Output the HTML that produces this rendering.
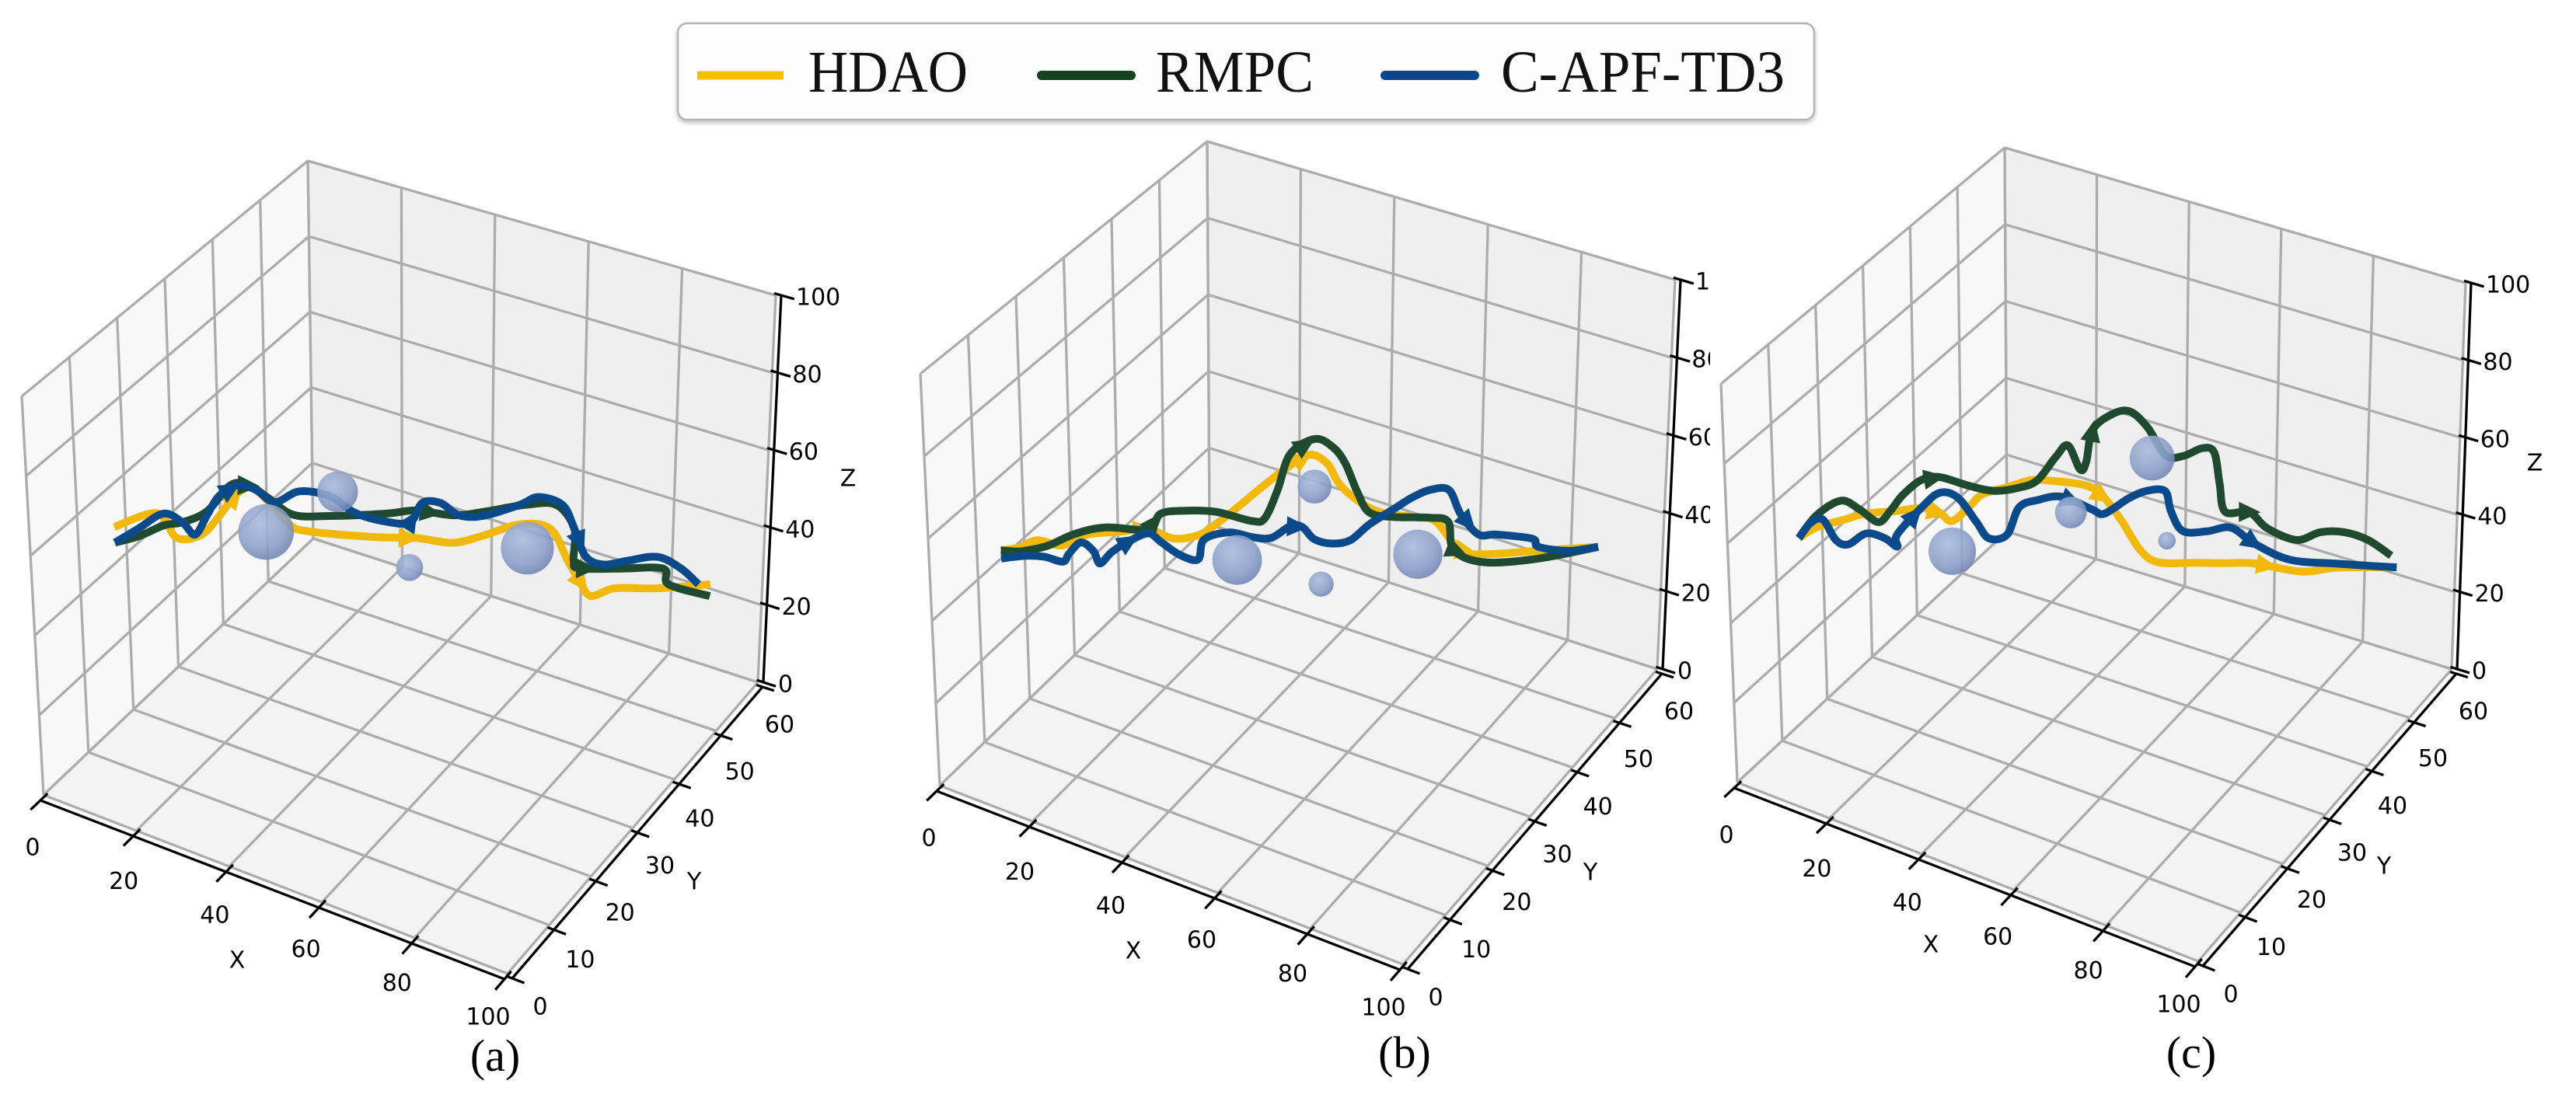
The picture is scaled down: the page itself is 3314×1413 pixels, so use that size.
<!DOCTYPE html>
<html><head><meta charset="utf-8"><style>
html,body{margin:0;padding:0;background:#fff;}
svg{display:block;}
text{font-family:"DejaVu Sans","Liberation Sans",sans-serif;}
</style></head><body>
<svg id="fig" width="3314" height="1413" viewBox="0 0 3314 1413" xmlns="http://www.w3.org/2000/svg">
<defs>
<radialGradient id="sph" cx="40%" cy="35%" r="65%">
<stop offset="0" stop-color="#a9bbdc"/><stop offset="0.7" stop-color="#8a9ec8"/><stop offset="1" stop-color="#7486b3"/>
</radialGradient>
<clipPath id="clipB"><rect x="1100" y="0" width="1100" height="1413"/></clipPath>
<filter id="shadow" x="-5%" y="-20%" width="110%" height="150%"><feDropShadow dx="0" dy="3" stdDeviation="3" flood-color="#000" flood-opacity="0.25"/></filter>
</defs>
<g id="legend">
<rect x="872" y="30" width="1462" height="124" rx="12" fill="#fcfcfc" stroke="#b5b5b5" stroke-width="2.5" filter="url(#shadow)"/>
<g>
<line x1="897" y1="97" x2="1008" y2="97" stroke="#F5C000" stroke-width="11" stroke-linecap="butt"/>
<text x="1040" y="118" style="font-family:'Liberation Serif',serif" font-size="76" textLength="205" lengthAdjust="spacingAndGlyphs" fill="#111">HDAO</text>
</g>
<g>
<line x1="1340" y1="97" x2="1455" y2="97" stroke="#17401f" stroke-width="12" stroke-linecap="round"/>
<text x="1487" y="118" style="font-family:'Liberation Serif',serif" font-size="76" textLength="203" lengthAdjust="spacingAndGlyphs" fill="#111">RMPC</text>
</g>
<g>
<line x1="1782" y1="97" x2="1897" y2="97" stroke="#0A4590" stroke-width="12" stroke-linecap="round"/>
<text x="1931" y="118" style="font-family:'Liberation Serif',serif" font-size="76" textLength="365" lengthAdjust="spacingAndGlyphs" fill="#111">C-APF-TD3</text>
</g>
</g>
<g id="panelA"></g>
<g id="panelB" clip-path="url(#clipB)"></g>
<g id="panelC"></g>
</svg>
<script>
// ---------- axis ticks ----------
const xTicks = [0, 20, 40, 60, 80, 100];
const yTicks = [0, 10, 20, 30, 40, 50, 60];
const zTicks = [0, 20, 40, 60, 80, 100];

// ---------- panel (a) data ----------
const hdaoX_a = [2,9,12,16,19,22,25,30,33,44,51,57,62,68,73,76,78,80,84,91,100];
const hdaoZ_a = [52,56,50,51,56,62,63,55,53,52,52,51,53,56,55,47,42,38,40,40,41];
const rmpcX_a = [2,6,10,13,17,21,24,27,31,37,46,51,57,62,69,74,77,77,78,85,92,93,100];
const rmpcZ_a = [48,50,53,54,57,64,64,61,57,57,58,59,58,59,61,61,55,47,45,45,45,41,38];
const capfX_a = [2,6,10,13,15,17,19,22,25,28,32,37,41,46,50,52,55,58,62,68,71,75,77,79,82,86,91,95,98];
const capfZ_a = [48,52,56,54,51,56,61,64,63,60,63,62,58,56,56,61,61,58,58,61,63,61,55,48,46,47,48,45,41];
const obsX_a = [26.5, 38.2, 49.9, 69.3];
const obsZ_a = [52.4, 63.2, 44.5, 50.0];
const obsR_a = [5.9, 4.3, 2.9, 5.7];

// ---------- panel (b) data ----------
const hdaoX_b = [0,3,6,10,14,19,24,28,32,35,39,42,46,50,53,55,58,62,68,71,75,79,88,98];
const hdaoZ_b = [42,43,45,44,47,48,49,47,48,51,56,60,65,69,67,62,58,55,54,53,46,45,46,47];
const rmpcX_b = [0,3,6,8,12,17,24,26,30,35,41,43,45,47,51,54,56,58,60,64,70,73,74,79,88,98];
const rmpcZ_b = [42,42,43,44,47,49,49,53,54,54,52,53,60,69,73,71,67,60,55,54,54,53,46,43,44,47];
const capfX_b = [0,4,7,10,11,13,15,16,18,21,24,26,29,32,33,37,41,44,47,49,51,54,57,60,64,67,70,73,75,78,81,87,88,93,98];
const capfZ_b = [40,41,41,40,42,45,43,40,43,46,48,46,43,42,47,49,48,48,51,51,48,47,48,52,56,59,61,61,55,50,50,49,47,46,47];
const obsX_b = [38.4, 51.0, 52.2, 68.1];
const obsZ_b = [42.2, 61.1, 36.8, 44.8];
const obsR_b = [5.3, 3.6, 2.7, 5.3];

// ---------- panel (c) data ----------
const hdaoX_c = [0,3,7,11,16,20,23,25,28,30,34,38,41,47,50,53,56,59,65,70,75,83,89,99];
const hdaoZ_c = [46,49,51,53,54,55,54,52,56,59,61,63,63,62,59,53,46,43,43,43,43,41,42,42];
const rmpcX_c = [0,3,7,10,13,15,17,20,23,28,32,36,39,42,44,46,47,48,51,54,57,60,63,66,68,69,70,74,77,82,86,90,94,98];
const rmpcZ_c = [46,52,56,54,51,54,58,62,63,61,60,61,63,69,72,66,68,76,80,81,77,70,70,72,71,63,56,56,52,49,51,51,49,45];
const capfX_c = [0,2,4,6,8,11,14,16,16,20,23,26,29,31,34,36,39,43,48,50,54,57,60,61,63,67,71,75,81,89,99];
const capfZ_c = [46,50,51,46,45,48,47,45,48,55,59,58,52,48,49,56,58,59,56,55,59,61,61,56,51,51,52,48,44,43,42];
const obsX_c = [25.0, 44.5, 57.8, 60.4];
const obsZ_c = [44.4, 55.1, 69.3, 48.5];
const obsR_c = [5.1, 3.4, 4.8, 1.9];

const COLORS = {hdao:'#F2B80C', rmpc:'#1F4A30', capf:'#0B4A8A'};
const NS = 'http://www.w3.org/2000/svg';

const panels = [
  {id:'panelA', key:'a',
   c:{c000:[56,1023],c100:[653,1253],c110:[975,878],c010:[403,693],c001:[28,510],c101:[667,720],c111:[998,380],c011:[396,207]},
   xt:[305,1237], yt:[893,1136], zt:[1091,617], lab:[637,1378], lbl:'(a)',
   series:[['hdao',hdaoX_a,hdaoZ_a],['rmpc',rmpcX_a,rmpcZ_a],['capf',capfX_a,capfZ_a]],
   obs:[obsX_a,obsZ_a,obsR_a]},
  {id:'panelB', key:'b',
   c:{c000:[1209,1011],c100:[1805,1241],c110:[2132,861],c010:[1556,675],c001:[1184,481],c101:[1823,700],c111:[2155,360],c011:[1553,182]},
   xt:[1458,1225], yt:[2046,1124], zt:null, lab:[1807,1374], lbl:'(b)',
   series:[['hdao',hdaoX_b,hdaoZ_b],['rmpc',rmpcX_b,rmpcZ_b],['capf',capfX_b,capfZ_b]],
   obs:[obsX_b,obsZ_b,obsR_b]},
  {id:'panelC', key:'c',
   c:{c000:[2235,1007],c100:[2828,1237],c110:[3154,861],c010:[2582,684],c001:[2214,494],c101:[2846,700],c111:[3172,364],c011:[2579,190]},
   xt:[2484,1217], yt:[3067,1116], zt:[3261,597], lab:[2819,1374], lbl:'(c)',
   series:[['hdao',hdaoX_c,hdaoZ_c],['rmpc',rmpcX_c,rmpcZ_c],['capf',capfX_c,capfZ_c]],
   obs:[obsX_c,obsZ_c,obsR_c]}
];

function lerp(a,b,t){return [a[0]+(b[0]-a[0])*t, a[1]+(b[1]-a[1])*t];}
function project(c,x,y,z){
  const tx=x/100, ty=y/60, tz=z/100;
  const b0=lerp(lerp(c.c000,c.c100,tx), lerp(c.c010,c.c110,tx), ty);
  const b1=lerp(lerp(c.c001,c.c101,tx), lerp(c.c011,c.c111,tx), ty);
  return lerp(b0,b1,tz);
}
// flight corridor plane (vertical plane through the start/goal area)
function corridorY(x){return 15+0.32*x;}

function mk(tag, attrs, parent){
  const e=document.createElementNS(NS,tag);
  for(const k in attrs) e.setAttribute(k,attrs[k]);
  parent.appendChild(e); return e;
}
function smoothPath(pts){
  let d='M'+pts[0][0].toFixed(1)+','+pts[0][1].toFixed(1);
  for(let i=0;i<pts.length-1;i++){
    const p0=pts[Math.max(0,i-1)], p1=pts[i], p2=pts[i+1], p3=pts[Math.min(pts.length-1,i+2)];
    const c1=[p1[0]+(p2[0]-p0[0])/6, p1[1]+(p2[1]-p0[1])/6];
    const c2=[p2[0]-(p3[0]-p1[0])/6, p2[1]-(p3[1]-p1[1])/6];
    d+=' C'+c1[0].toFixed(1)+','+c1[1].toFixed(1)+' '+c2[0].toFixed(1)+','+c2[1].toFixed(1)+' '+p2[0].toFixed(1)+','+p2[1].toFixed(1);
  }
  return d;
}

panels.forEach(p=>{
  const g=document.getElementById(p.id);
  const c=p.c;
  const P=(x,y,z)=>project(c,x,y,z);
  const poly=(arr)=>arr.map(q=>q[0].toFixed(1)+','+q[1].toFixed(1)).join(' ');
  // panes
  const paneL=mk('polygon',{points:poly([P(0,0,0),P(0,60,0),P(0,60,100),P(0,0,100)]),fill:'#f8f8f8',stroke:'#f0f0f0','stroke-width':2},g);
  
  
  const paneB=mk('polygon',{points:poly([P(0,60,0),P(100,60,0),P(100,60,100),P(0,60,100)]),fill:'#efefef',stroke:'#ececec','stroke-width':2},g);
  
  
  const paneF=mk('polygon',{points:poly([P(0,0,0),P(100,0,0),P(100,60,0),P(0,60,0)]),fill:'#f3f3f3',stroke:'#ececec','stroke-width':2},g);
  
  
  // gridlines
  const grid=mk('g',{stroke:'#acacac','stroke-width':3.3,fill:'none'},g);
  
  
  const gl=(a,b)=>{const l=mk('polyline',{points:poly([a,b])},grid);
    
    };
  xTicks.forEach(x=>{gl(P(x,0,0),P(x,60,0)); gl(P(x,60,0),P(x,60,100));});
  yTicks.forEach(y=>{gl(P(0,y,0),P(100,y,0)); gl(P(0,y,0),P(0,y,100));});
  zTicks.forEach(z=>{gl(P(0,0,z),P(0,60,z)); gl(P(0,60,z),P(100,60,z));});
  // axis lines
  const ax=mk('g',{stroke:'#000','stroke-width':3.3,fill:'none'},g);
  
  
  const off=(q,dx,dy)=>[q[0]+dx,q[1]+dy];
  const xa=mk('polyline',{points:poly([off(P(0,0,0),-4,7),off(P(100,0,0),-4,7)])},ax);
  
  
  const ya=mk('polyline',{points:poly([off(P(100,0,0),6,6),off(P(100,60,0),6,6)])},ax);
  
  
  const za=mk('polyline',{points:poly([off(P(100,60,0),7,0),off(P(100,60,100),7,0)])},ax);
  
  
  // ticks + labels
  const lblG=mk('g',{'font-size':30,fill:'#000'},g);
  
  
  xTicks.forEach(x=>{
    const a=off(P(x,1.6,0),-4,7), b=off(P(x,-2.2,0),-4,7);
    const t=mk('line',{x1:a[0],y1:a[1],x2:b[0],y2:b[1],stroke:'#000','stroke-width':3.3},ax);
    
    
    const q=P(x,0,0), f=x/100;
    const tx=mk('text',{x:q[0]-14-11*f,y:q[1]+69-12*f,'text-anchor':'middle','dominant-baseline':'middle'},lblG);
    tx.textContent=String(x);
    
    
  });
  yTicks.forEach(y=>{
    const a=off(P(98.6,y,0),6,6), b=off(P(102.6,y,0),6,6);
    const t=mk('line',{x1:a[0],y1:a[1],x2:b[0],y2:b[1],stroke:'#000','stroke-width':3.3},ax);
    
    
    const q=P(100,y,0), f=y/60;
    const tx=mk('text',{x:q[0]+42-14*f,y:q[1]+44+12*f,'text-anchor':'middle','dominant-baseline':'middle'},lblG);
    tx.textContent=String(y);
    
    
  });
  zTicks.forEach(z=>{
    const a=off(P(98.5,60,z),7,0), b=off(P(102.8,60,z),7,0);
    const t=mk('line',{x1:a[0],y1:a[1],x2:b[0],y2:b[1],stroke:'#000','stroke-width':3.3},ax);
    
    
    const q=P(100,60,z);
    const tx=mk('text',{x:q[0]+26,y:q[1]+4,'text-anchor':'start','dominant-baseline':'middle'},lblG);
    tx.textContent=String(z);
    
    
  });
  // axis titles
  const xtl=mk('text',{x:p.xt[0],y:p.xt[1],'font-size':30,'text-anchor':'middle','dominant-baseline':'middle'},g);
  xtl.textContent='X';
  
  
  const ytl=mk('text',{x:p.yt[0],y:p.yt[1],'font-size':30,'text-anchor':'middle','dominant-baseline':'middle'},g);
  ytl.textContent='Y';
  
  
  if(p.zt){
    const ztl=mk('text',{x:p.zt[0],y:p.zt[1],'font-size':30,'text-anchor':'middle','dominant-baseline':'middle'},g);
    ztl.textContent='Z';
    
    
  }
  // trajectories
  p.series.forEach(s=>{
    const [name,xs,zs]=s;
    const pts=xs.map((x,i)=>P(x,corridorY(x),zs[i]));
    const sg=mk('g',{},g);
    
    
    const path=mk('path',{d:smoothPath(pts),fill:'none',stroke:COLORS[name],'stroke-width':10,'stroke-linejoin':'round','stroke-linecap':'butt'},sg);
    
    
    // direction arrows
    const cum=[0];
    for(let i=1;i<pts.length;i++) cum.push(cum[i-1]+Math.hypot(pts[i][0]-pts[i-1][0],pts[i][1]-pts[i-1][1]));
    const L=cum[cum.length-1];
    [0.22,0.5,0.8].forEach(fr=>{
      const d=fr*L; let i=1; while(i<cum.length-1&&cum[i]<d) i++;
      const t=(d-cum[i-1])/Math.max(1e-6,cum[i]-cum[i-1]);
      const q=lerp(pts[i-1],pts[i],t);
      let dx=pts[i][0]-pts[i-1][0], dy=pts[i][1]-pts[i-1][1]; const n=Math.hypot(dx,dy)||1; dx/=n; dy/=n;
      const tip=[q[0]+dx*15,q[1]+dy*15], bl=[q[0]-dx*13-dy*13,q[1]-dy*13+dx*13], br=[q[0]-dx*13+dy*13,q[1]-dy*13-dx*13];
      const ar=mk('polygon',{points:poly([tip,bl,br]),fill:COLORS[name]},sg);
      
      
    });
  });
  // obstacles
  const [ox,oz,or]=p.obs;
  ox.forEach((x,i)=>{
    const y=corridorY(x);
    const q=P(x,y,oz[i]);
    const pxu=(P(x+1,y,oz[i])[0]-P(x-1,y,oz[i])[0])/2;
    const ob=mk('circle',{cx:q[0],cy:q[1],r:or[i]*pxu,fill:'url(#sph)',opacity:0.88},g);
    
    
  });
  // panel label
  const pl=mk('text',{x:p.lab[0],y:p.lab[1],'font-size':58,'text-anchor':'middle',style:"font-family:'Liberation Serif',serif"},g);
  pl.textContent=p.lbl;
  
  
});
</script>
</body></html>
